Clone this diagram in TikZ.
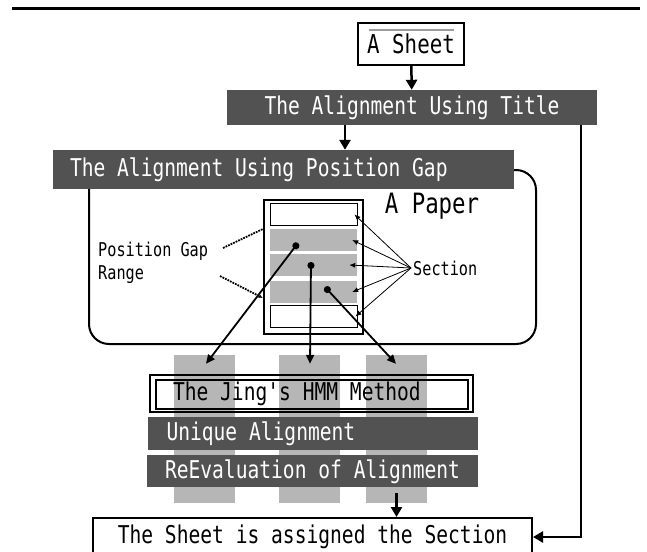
\documentclass[tikz,border=0pt]{standalone}
\usepackage{fontspec}
\usepackage{tikz}
\usetikzlibrary{arrows.meta,positioning}

\newfontfamily\gothic[FakeStretch=0.8,Ligatures=TeXOff,WordSpace={1,0,0}]{DejaVu Sans Mono}
\newcommand{\bigtxt}{\gothic\fontsize{24.5}{24.5}\selectfont}
\newcommand{\smalltxt}{\gothic\fontsize{19}{23}\selectfont}
\definecolor{bardark}{RGB}{82,82,82}
\definecolor{striplight}{RGB}{182,182,182}

\tikzset{
	lefttext/.style={execute at begin node={\hbox to #1\bgroup},execute at end node={\hfil\egroup}},
	darkbar/.style={fill=bardark,text=white,inner sep=0pt,font=\bigtxt},
	leftbar/.style={darkbar,inner xsep=19pt,lefttext=#1},
	column/.style={fill=striplight,minimum width=61pt,minimum height=148pt,inner sep=0pt},
	strip/.style={minimum width=87pt,minimum height=21.5pt,inner sep=0pt},
	whitestrip/.style={strip,draw,fill=white,line width=0.8pt},
	graystrip/.style={strip,fill=striplight},
	flowarrow/.style={line width=2.5pt,-{Triangle[length=10pt,width=11pt]}},
	dotarrow/.style={line width=1.8pt,{Circle[length=7pt]}-{Triangle[length=9pt,width=8pt]}},
	thinarrow/.style={line width=0.8pt,-{Latex[length=6pt,width=5pt]}},
	gapline/.style={line width=1.8pt,densely dotted}
}

\begin{document}
\begin{tikzpicture}[x=1pt,y=-1pt]
	\useasboundingbox (0,0) rectangle (647,551);
	\clip (0,0) rectangle (647,551);
	\draw[line width=2.2pt] (12,8.5) -- (640,8.5);

	% gray columns behind the method boxes
	\foreach \n/\x in {1/204.5,2/309.5,3/396.5}
		\node[column] (col\n) at (\x,429) {};

	% sheet and title step
	\node[draw,line width=2pt,minimum width=106pt,minimum height=42pt,inner sep=0pt,text depth=1pt,font=\gothic\fontsize{26}{26}\selectfont] (sheet) at (411,44) {A Sheet};
	\draw[striplight!85!black,line width=2pt] ([shift={(12,8)}]sheet.north west) -- ([shift={(-11,8)}]sheet.north east);
	\node[darkbar,minimum width=370pt,minimum height=35pt] (title) at (412,107.5) {The Alignment Using Title};

	% paper area
	\node[draw,line width=2pt,rounded corners=20pt,minimum width=447pt,minimum height=174pt] (area) at (312.5,257) {};
	\node[leftbar=427pt,inner xsep=17pt,minimum height=39pt] (pos) at (283.5,169.5) {The Alignment Using Position Gap};
	\node[font=\gothic\fontsize{28}{28}\selectfont] (papername) at (432,206) {A Paper};

	\node[draw,fill=white,line width=2.5pt,minimum width=99pt,minimum height=134pt] (paper) at (313.5,267) {};
	\foreach \n/\y/\s in {1/214.5/whitestrip,2/240/graystrip,3/265/graystrip,4/292/graystrip,5/316.5/whitestrip}
		\node[\s] (s\n) at (313.5,\y) {};

	\node[font=\smalltxt,anchor=west,inner sep=2pt] (section) at (411,268) {Section};
	\foreach \n/\dx in {1/-3,2/-5,3/-8,4/-5,5/-2}
		\draw[thinarrow] (section.west) -- ([xshift=\dx pt]s\n.east);

	\node[font=\smalltxt,anchor=west,align=left,inner sep=2pt] (gaplabel) at (96,262.5) {Position Gap\\Range};
	\coordinate (g1) at (223,248);
	\coordinate (g2) at (220,276);
	\draw[gapline] (g1) -- (paper.west |- s2.north);
	\draw[gapline,-{Latex[length=4pt,width=4pt]}] (g2) -- ([yshift=5pt]paper.west |- s4.south);

	% method boxes
	\node[draw,line width=1.8pt,inner xsep=23pt,lefttext=277pt,minimum height=37pt,font=\bigtxt] (jing) at (311.5,393.5) {The Jing's HMM Method};
	\draw[line width=1.8pt] ([shift={(7,6)}]jing.north west) rectangle ([shift={(-6,-4)}]jing.south east);
	\node[leftbar=292pt,minimum height=33pt] (unique) at (312.5,433.5) {Unique Alignment};
	\node[leftbar=295pt,inner xsep=18pt,minimum height=32pt,below=5pt of unique] (reeval) {ReEvaluation of Alignment};

	\node[draw,fill=white,line width=2pt,minimum width=439pt,minimum height=38pt,inner sep=0pt,font=\bigtxt] (final) at (312.5,537) {The Sheet is assigned the Section};

	% sections to methods
	\coordinate (d1) at (298,243);
	\coordinate (d2) at (311,262);
	\coordinate (d3) at (325,287);
	\foreach \n/\dx in {1/1.5,2/0.5,3/-0.5}
		\draw[dotarrow] (d\n) -- ([xshift=\dx pt,yshift=-9pt]col\n.north);

	% main flow
	\coordinate (t2p) at (345,125);
	\draw[flowarrow] (sheet) -- (title);
	\draw[flowarrow] (t2p) -- (t2p |- pos.north);
	\draw[flowarrow] ([xshift=-16pt]title.south east) |- (final.east);
	\draw[flowarrow] ([yshift=10pt]col3.south) -- (col3 |- final.north);
\end{tikzpicture}
\end{document}
